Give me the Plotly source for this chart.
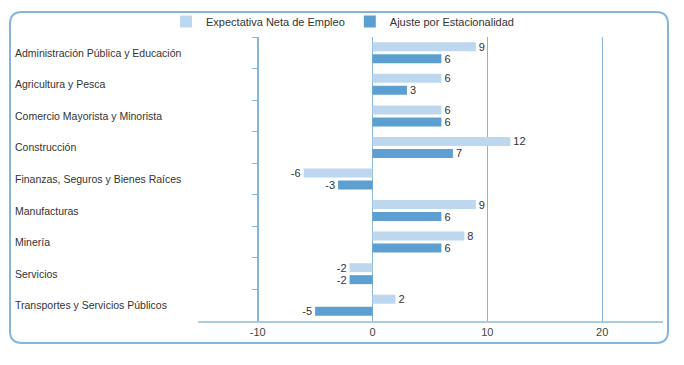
import plotly.graph_objects as go

categories = [
    "Administración Pública y Educación",
    "Agricultura y Pesca",
    "Comercio Mayorista y Minorista",
    "Construcción",
    "Finanzas, Seguros y Bienes Raíces",
    "Manufacturas",
    "Minería",
    "Servicios",
    "Transportes y Servicios Públicos",
]
expectativa = [9, 6, 6, 12, -6, 9, 8, -2, 2]
ajuste = [6, 3, 6, 7, -3, 6, 6, -2, -5]
series_names = ["Expectativa Neta de Empleo", "Ajuste por Estacionalidad"]
x_ticks = [-10, 0, 10, 20]
x_tick_labels = ["-10", "0", "10", "20"]

W, H = 684, 365
ML, MR, MT, MB = 198, 21, 37, 44
PW, PH = W - ML - MR, H - MT - MB
XMIN, XMAX = -15.2, 25.3

LIGHT = "#BDD8EE"
DARK = "#5E9FD2"
LINE = "#86B4DA"
TXT = "#333333"
FONT = "Liberation Sans, Arial, sans-serif"

fig = go.Figure()
for name, vals, col in [(series_names[0], expectativa, LIGHT), (series_names[1], ajuste, DARK)]:
    fig.add_trace(go.Bar(
        y=categories, x=vals, name=name, orientation="h",
        marker=dict(color=col, line=dict(width=0)),
        text=[str(v) for v in vals], textposition="outside",
        constraintext="none",
        textfont=dict(size=11, color=TXT, family=FONT),
        cliponaxis=False,
    ))

def px_x(p):
    return (p - ML) / PW

def px_y(p):
    return (H - MB - p) / PH

# rounded border
x0, x1, y0, y1, r = 10, 668, 12, 343, 12
path = (
    f"M {px_x(x0 + r)},{px_y(y0)} L {px_x(x1 - r)},{px_y(y0)} "
    f"Q {px_x(x1)},{px_y(y0)} {px_x(x1)},{px_y(y0 + r)} "
    f"L {px_x(x1)},{px_y(y1 - r)} Q {px_x(x1)},{px_y(y1)} {px_x(x1 - r)},{px_y(y1)} "
    f"L {px_x(x0 + r)},{px_y(y1)} Q {px_x(x0)},{px_y(y1)} {px_x(x0)},{px_y(y1 - r)} "
    f"L {px_x(x0)},{px_y(y0 + r)} Q {px_x(x0)},{px_y(y0)} {px_x(x0 + r)},{px_y(y0)} Z"
)
fig.add_shape(type="path", path=path, xref="paper", yref="paper",
              line=dict(color=LINE, width=2), layer="below")

for c in categories:
    fig.add_annotation(text=c, x=px_x(13), y=c, xref="paper", yref="y",
                       xanchor="left", yanchor="middle", showarrow=False,
                       font=dict(size=10.5, color=TXT, family=FONT))

ypos = (-10 - XMIN) / (XMAX - XMIN)

fig.update_layout(
    width=W, height=H,
    margin=dict(l=ML, r=MR, t=MT, b=MB, autoexpand=False),
    paper_bgcolor="white", plot_bgcolor="white",
    barmode="group", bargap=0.24, bargroupgap=0.25,
    font=dict(family=FONT, size=11, color=TXT),
    showlegend=True,
    legend=dict(orientation="h", x=px_x(166), y=px_y(7), xanchor="left", yanchor="top",
                traceorder="normal",
                font=dict(size=11, color=TXT, family=FONT),
                bgcolor="rgba(0,0,0,0)"),
    xaxis=dict(range=[XMIN, XMAX], tickvals=x_ticks, ticktext=x_tick_labels,
               showgrid=True, gridcolor=LINE,
               gridwidth=1, zeroline=True, zerolinecolor=LINE, zerolinewidth=1,
               showline=True, linecolor="#A8CBE6", linewidth=2, ticks="",
               tickfont=dict(size=11, color="#444444", family=FONT)),
    yaxis=dict(autorange="reversed", showticklabels=False, showgrid=False,
               anchor="free", position=ypos, showline=True, linecolor=LINE,
               linewidth=1, ticks="outside", ticklen=6, tickcolor=LINE,
               tickson="boundaries", zeroline=False),
)

fig.write_html("out.html", config={"displayModeBar": False})

with open("out.html", "r", encoding="utf-8") as f:
    html = f.read()
html = html.replace("<body>", '<body style="margin:0;padding:0;overflow:hidden">', 1)
with open("out.html", "w", encoding="utf-8") as f:
    f.write(html)
